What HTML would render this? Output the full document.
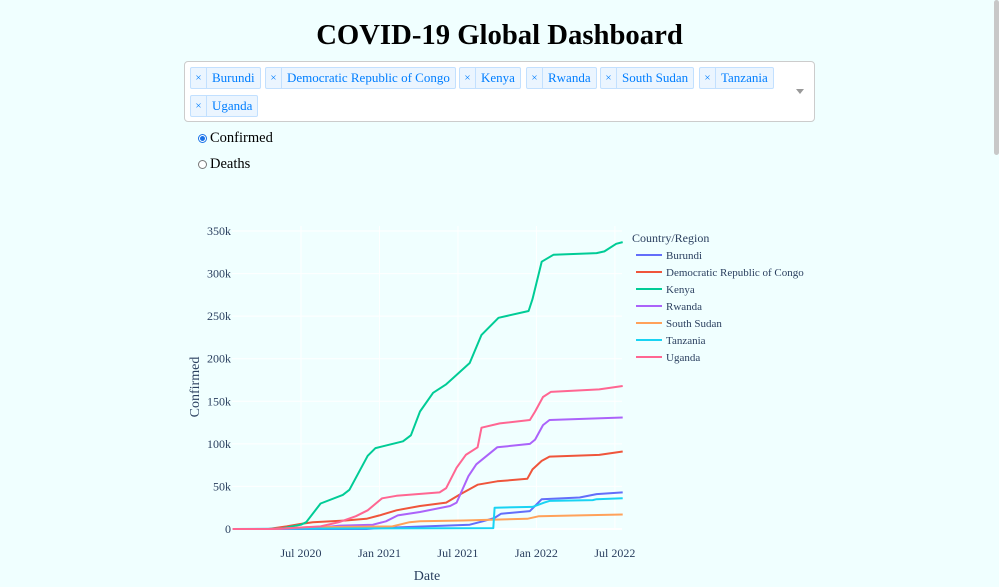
<!DOCTYPE html>
<html><head><meta charset="utf-8">
<style>
body{margin:0;background:#f0ffff;width:999px;height:587px;overflow:hidden;position:relative;font-family:"Liberation Serif",serif;}
h1{position:absolute;top:19px;left:0;width:999px;margin:0;text-align:center;font-size:28.7px;font-weight:bold;}
.dd{position:absolute;left:184px;top:61px;width:629px;height:59px;border:1px solid #ccc;border-radius:4px;background:#fff;}
.tag{position:absolute;height:20px;border:1px solid #c2e0ff;background:#ebf5ff;color:#007eff;font-size:13px;line-height:20px;border-radius:2px;display:flex;}
.tag .x{width:15px;text-align:center;border-right:1px solid #c2e0ff;font-size:11px;}
.tag .t{padding:0 5px;}
.arrow{position:absolute;left:611px;top:27px;width:0;height:0;border-left:4px solid transparent;border-right:4px solid transparent;border-top:5px solid #999;}
.radio{position:absolute;left:198px;font-size:14.5px;display:flex;align-items:center;}
.radio span.c{width:9px;height:9px;border:1px solid #777;border-radius:50%;margin-right:3px;background:#fff;box-sizing:border-box;}
.radio span.c.on{border-color:#1a73e8;background:radial-gradient(#1a73e8 45%,#fff 55%);}
.sb{position:absolute;left:994px;top:0;width:5px;height:155px;background:#c8c8c8;border-radius:3px;}
</style></head><body>
<h1>COVID-19 Global Dashboard</h1>
<div class="dd">
 <div class="tag" style="left:5px;top:5px"><span class="x">×</span><span class="t">Burundi</span></div>
 <div class="tag" style="left:80px;top:5px"><span class="x">×</span><span class="t">Democratic Republic of Congo</span></div>
 <div class="tag" style="left:274px;top:5px"><span class="x">×</span><span class="t">Kenya</span></div>
 <div class="tag" style="left:341px;top:5px"><span class="x">×</span><span class="t">Rwanda</span></div>
 <div class="tag" style="left:415px;top:5px"><span class="x">×</span><span class="t">South Sudan</span></div>
 <div class="tag" style="left:514px;top:5px"><span class="x">×</span><span class="t">Tanzania</span></div>
 <div class="tag" style="left:5px;top:33px"><span class="x">×</span><span class="t">Uganda</span></div>
 <div class="arrow"></div>
</div>
<div class="radio" style="top:130px"><span class="c on"></span>Confirmed</div>
<div class="radio" style="top:156px"><span class="c"></span>Deaths</div>
<div class="sb"></div>
<svg id="chart" width="999" height="587" style="position:absolute;left:0;top:0"></svg>
<script>
const countries=["Burundi","Democratic Republic of Congo","Kenya","Rwanda","South Sudan","Tanzania","Uganda"];
const colors=["#636efa","#EF553B","#00cc96","#ab63fa","#FFA15A","#19d3f3","#FF6692"];
const yTicks=[0,50000,100000,150000,200000,250000,300000,350000];
const yTickLabels=["0","50k","100k","150k","200k","250k","300k","350k"];
const xTicks=[6,12,18,24,30];
const xTickLabels=["Jul 2020","Jan 2021","Jul 2021","Jan 2022","Jul 2022"];
// months since Jan 2020, values in thousands
const burundiM=[0.77,11,12,18.9,19.9,20.8,21.3,23.5,24.4,27.3,28.6,30.6];
const burundiV=[0,0,1,5,9,13,18,21,35,37,41,43];
const drcM=[0.77,3.5,4.9,6,6.9,9.4,11,12,13.3,15.1,17.1,18.1,19.5,21,23.3,23.7,24.4,25,28.8,30.6];
const drcV=[0,0,3,6,8,10,12,16,22,27,31,40,52,56,59,70,80,85,87,91];
const kenyaM=[0.77,4.3,6,6.4,7.5,9.2,9.7,11.1,11.7,13.8,14.4,15.1,16.1,17.1,18.9,19.8,21.1,23.4,23.7,24.4,25.3,28.6,29.2,30.1,30.6];
const kenyaV=[0,0,5,8,30,40,46,86,95,103,110,138,160,170,195,228,248,256,270,314,322,324,326,335,337];
const rwandaM=[0.77,5,7.7,9,11.5,12.5,13.4,15.1,17.4,17.9,18.8,19.4,21,23.5,23.9,24.5,25,30.6];
const rwandaV=[0,0,2,4,5,9,16,20,27,31,62,76,96,100,105,122,128,131];
const ssudanM=[0.77,4,6.4,13,14.3,15.1,18.4,23.3,24.2,27.3,30.6];
const ssudanV=[0,0,2,3,8,9,10,12,15,16,17];
const tanzaniaM=[0.77,5,20.7,20.8,23.7,24.6,25,28.3,28.6,30.6];
const tanzaniaV=[0,0.5,1,25,26,31,33,34,35,36];
const ugandaM=[0.77,4,7.5,8.9,10.2,11.1,12.2,13.3,16.6,17.1,17.9,18.6,19.5,19.8,21.2,23.5,23.9,24.5,25.1,28.8,30.6];
const ugandaV=[0,0,3,8,15,22,36,39,43,48,72,87,96,119,124,128,138,155,161,164,168];
const seriesM=[burundiM,drcM,kenyaM,rwandaM,ssudanM,tanzaniaM,ugandaM];
const seriesV=[burundiV,drcV,kenyaV,rwandaV,ssudanV,tanzaniaV,ugandaV];

const NS="http://www.w3.org/2000/svg";
const svg=document.getElementById('chart');
const X=m=>222.5+m*13.08;
const Y=v=>529-v/350000*298;
function mk(tag,attrs,parent){const e=document.createElementNS(NS,tag);for(const k in attrs)e.setAttribute(k,attrs[k]);(parent||svg).appendChild(e);return e;}
const px0=232,px1=622;
yTicks.forEach((t,i)=>{
  const g=mk('line',{x1:px0,x2:px1,y1:Y(t),y2:Y(t),stroke:'#fff','stroke-width':i===0?2:1});
  
  
  const l=mk('text',{x:231,y:Y(t)+4,'text-anchor':'end','font-size':12,fill:'#2a3f5f','font-family':'Liberation Serif, serif'});
  l.textContent=yTickLabels[i];
  
  
});
xTicks.forEach((t,i)=>{
  const g=mk('line',{x1:X(t),x2:X(t),y1:226,y2:529,stroke:'#fff','stroke-width':1});
  
  
  const l=mk('text',{x:X(t),y:557,'text-anchor':'middle','font-size':12,fill:'#2a3f5f','font-family':'Liberation Serif, serif'});
  l.textContent=xTickLabels[i];
  
  
});
const xt=mk('text',{x:427,y:580,'text-anchor':'middle','font-size':14,fill:'#2a3f5f','font-family':'Liberation Serif, serif'});
xt.textContent='Date';


const yt=mk('text',{x:0,y:0,transform:'translate(199,387) rotate(-90)','text-anchor':'middle','font-size':14,fill:'#2a3f5f','font-family':'Liberation Serif, serif'});
yt.textContent='Confirmed';


seriesM.forEach((ms,i)=>{
  const pts=ms.map((m,j)=>X(m).toFixed(1)+','+Y(seriesV[i][j]*1000).toFixed(1)).join(' ');
  const p=mk('polyline',{points:pts,fill:'none',stroke:colors[i],'stroke-width':2,'stroke-linejoin':'round'});
  
  
});
const lt=mk('text',{x:632,y:242,'font-size':12,fill:'#2a3f5f','font-family':'Liberation Serif, serif'});
lt.textContent='Country/Region';


countries.forEach((c,i)=>{
  const y=255+i*17;
  const g=mk('g',{});
  
  
  mk('line',{x1:636,x2:662,y1:y,y2:y,stroke:colors[i],'stroke-width':2},g);
  const t=mk('text',{x:666,y:y+4,'font-size':11,fill:'#2a3f5f','font-family':'Liberation Serif, serif'},g);
  t.textContent=c;
});
</script>
</body></html>
